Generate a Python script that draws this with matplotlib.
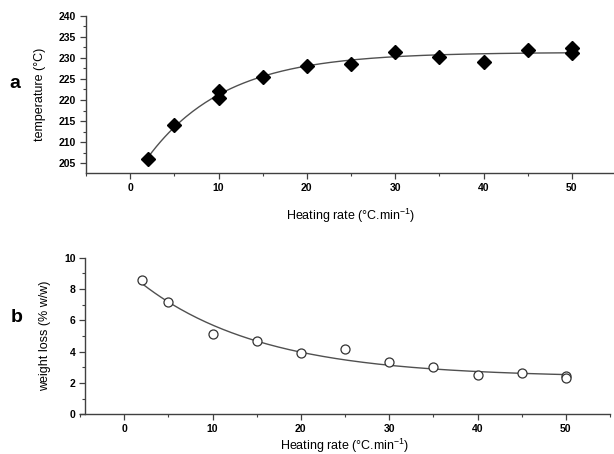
import numpy as np
import matplotlib
matplotlib.use('Agg')
import matplotlib.pyplot as plt
from matplotlib.ticker import MultipleLocator

plt.rcParams['font.family'] = ['Liberation Sans', 'DejaVu Sans']
plt.rcParams['mathtext.fontset'] = 'custom'
plt.rcParams['mathtext.rm'] = 'Liberation Sans'

# heating rate (°C/min)
rate_a = [2, 5, 10, 10, 15, 20, 25, 30, 35, 40, 45, 50, 50]
temp_a = [206.0, 214.1, 222.1, 220.4, 225.5, 228.1, 228.5, 231.5, 230.3, 229.1, 231.9, 232.4, 231.1]

rate_b = [2, 5, 10, 15, 20, 25, 30, 35, 40, 45, 50, 50]
loss_b = [8.58, 7.15, 5.11, 4.68, 3.90, 4.15, 3.32, 3.04, 2.49, 2.62, 2.45, 2.30]


def exp_fit(x, y):
    # y = A + B*exp(-x/t), brute force on t, least squares on A, B
    x = np.asarray(x, float)
    y = np.asarray(y, float)
    best = None
    for t in np.linspace(1, 40, 800):
        M = np.column_stack([np.ones_like(x), np.exp(-x / t)])
        coef, res, *_ = np.linalg.lstsq(M, y, rcond=None)
        err = np.sum((M @ coef - y) ** 2)
        if best is None or err < best[0]:
            best = (err, t, coef)
    _, t, (A, B) = best
    return lambda xx: A + B * np.exp(-xx / t)


fig = plt.figure(figsize=(6.14, 4.54), dpi=100)
W, H = 614, 454


def make_axes(left, top, right, bottom):
    return fig.add_axes([left / W, 1 - bottom / H, (right - left) / W, (bottom - top) / H])


ax1 = make_axes(86, 15.7, 616, 173.3)
ax2 = make_axes(80, 257.7, 610, 414.3)

line_col = '#505050'
xs = np.linspace(2, 50, 200)

f1 = exp_fit(rate_a, temp_a)
ax1.plot(xs, f1(xs), color=line_col, lw=1.0, zorder=2)
ax1.plot(rate_a, temp_a, ls='none', marker='D', ms=7, color='black', zorder=3)
ax1.set_xlim(-5, 55)
ax1.set_ylim(202.6, 240)
ax1.yaxis.set_major_locator(MultipleLocator(5))
ax1.yaxis.set_minor_locator(MultipleLocator(2.5))
ax1.set_ylabel('temperature (°C)', fontsize=9)

f2 = exp_fit(rate_b, loss_b)
ax2.plot(xs, f2(xs), color=line_col, lw=1.0, zorder=2)
ax2.plot(rate_b, loss_b, ls='none', marker='o', ms=6.5, mfc='white', mec='#333333', mew=0.9, zorder=3)
ax2.set_xlim(-5, 55)
ax2.set_ylim(0, 10)
ax2.spines['left'].set_position(('data', -4.4))
ax2.yaxis.set_major_locator(MultipleLocator(2))
ax2.yaxis.set_minor_locator(MultipleLocator(1))
ax2.set_ylabel('weight loss (% w/w)', fontsize=9)

for ax in (ax1, ax2):
    ax.spines['top'].set_visible(False)
    ax.spines['right'].set_visible(False)
    for s in ('left', 'bottom'):
        ax.spines[s].set_color('#404040')
        ax.spines[s].set_linewidth(1.0)
    ax.xaxis.set_major_locator(MultipleLocator(10))
    ax.xaxis.set_minor_locator(MultipleLocator(5))
    ax.tick_params(which='major', length=4, width=0.9, color='#404040', labelsize=7.5, pad=3)
    ax.tick_params(which='minor', length=2.5, width=0.8, color='#404040')
    for lab in ax.get_xticklabels() + ax.get_yticklabels():
        lab.set_fontweight('bold')
    ax.set_xlabel('Heating rate (°C.min$^{\\mathregular{-1}}$)', fontsize=9)
    ax.patch.set_alpha(0)

ax1.yaxis.set_label_coords(-0.075, 0.5)
ax2.yaxis.set_label_coords(-0.055, 0.5)
ax1.xaxis.set_label_coords(0.5, -0.21)
ax2.xaxis.set_label_coords(0.5, -0.145)

fig.text(15 / W, 1 - 83 / H, 'a', fontsize=14, fontweight='bold', ha='center', va='center')
fig.text(17 / W, 1 - 317 / H, 'b', fontsize=14, fontweight='bold', ha='center', va='center')

fig.savefig('out.png', dpi=100)
